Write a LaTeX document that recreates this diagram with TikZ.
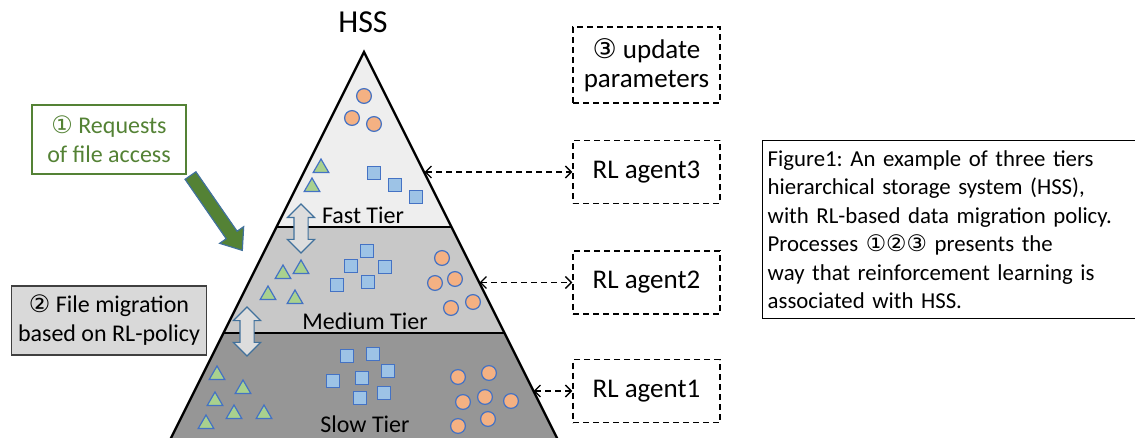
\documentclass[tikz,border=0pt]{standalone}
\usepackage{fontspec}
\setmainfont{Carlito}
\newfontfamily\circfont{DejaVu Sans}
\usetikzlibrary{arrows.meta,positioning,shapes.geometric,shapes.arrows,calc}
\definecolor{FastGray}{HTML}{EEEEEE}
\definecolor{MediumGray}{HTML}{C8C8C8}
\definecolor{SlowGray}{HTML}{969696}
\definecolor{ShapeBlue}{HTML}{4472C4}
\definecolor{SquareBlue}{HTML}{9DC3E6}
\definecolor{CircleOrange}{HTML}{F4B183}
\definecolor{TriGreen}{HTML}{A9D18E}
\definecolor{ReqGreen}{HTML}{548235}
\definecolor{ArrowBlue}{HTML}{41719C}
\definecolor{BoxGray}{HTML}{D9D9D9}
\newcommand{\circnum}[1]{{\circfont #1}}
\frenchspacing
\tikzset{
  file circle/.style={circle,draw=ShapeBlue,fill=CircleOrange,line width=0.6pt,
    minimum size=7.4pt,inner sep=0pt},
  file square/.style={rectangle,draw=ShapeBlue,fill=SquareBlue,line width=0.6pt,
    minimum size=6.6pt,inner sep=0pt},
  file triangle/.style={regular polygon,regular polygon sides=3,draw=ShapeBlue,
    fill=TriGreen,line width=0.6pt,minimum size=9pt,inner sep=0pt},
  tier label/.style={font=\fontsize{12}{14}\selectfont},
  agent box/.style={draw,dash pattern=on 3pt off 2pt,line width=0.65pt,
    minimum width=73.5pt,minimum height=31.5pt,align=center,font=\fontsize{13.5}{14.5}\selectfont},
  agent link/.style={{Straight Barb[length=3pt,width=6pt]}-{Straight Barb[length=3pt,width=6pt]},
    dash pattern=on 3pt off 2pt,line width=0.7pt},
  migration arrow/.style={double arrow,rotate=90,draw=ArrowBlue,fill=BoxGray!90,line width=0.6pt,
    minimum height=24.5pt,minimum width=13pt,double arrow head extend=3.25pt,inner sep=3.25pt},
  note box/.style={line width=0.7pt,minimum width=77pt,minimum height=34.5pt,align=center,
    font=\fontsize{12}{14.5}\selectfont}
}

\begin{document}
\begin{tikzpicture}[x=0.5pt,y={(0pt,-0.5pt)}]
  \useasboundingbox (0,0) rectangle (1135,438);
  \clip (0,0) rectangle (1135,438);
  \begin{scope}
    \clip (364,52) -- (160,460) -- (568,460) -- cycle;
    \fill[SlowGray] (0,333) rectangle (1135,460);
    \fill[MediumGray] (0,227) rectangle (1135,333);
    \fill[FastGray] (0,0) rectangle (1135,227);
  \end{scope}
  \draw[line width=1pt] (276.5,227) -- (451.5,227);
  \draw[line width=1pt] (223.5,333) -- (504.5,333);
  \coordinate (apex) at (364,52);
  \draw[line width=1.2pt,line join=miter] (160,460) -- (apex) -- (568,460);
  \node[font=\fontsize{16}{18}\selectfont] (hss) at (363,22) {HSS};

  \node[tier label] (fast) at (363,215) {Fast Tier};
  \node[tier label] (medium) at (365,321) {Medium Tier};
  \node[tier label] (slow) at (365,424) {Slow Tier};

  \foreach \x/\y [count=\i] in {364/96,352/118,374/124,442/258,435/283,455/279,451/308,473/302,
      458/377,489/373,463/402,485/397,511/401,488/419,458/426}
    \node[file circle] (circ\i) at (\x,\y) {};
  \foreach \x/\y [count=\i] in {374/173,395/185,416/197,367/251,351/266,385/267,337/285,368/282,
      347/356,373/354,388/371,333/381,362/378,384/393,360/398}
    \node[file square] (sq\i) at (\x,\y) {};
  \foreach \x/\y [count=\i] in {321/168,312/187,283/274,301/269,268/295,295/299,
      217/375,243/389,215/401,234/414,264/414,206/424}
    \node[file triangle] (tri\i) at (\x,\y) {};

  \node[migration arrow] (mig1) at (301,228.5) {};
  \node[migration arrow] (mig2) at (247,331.5) {};

  \node[agent box,minimum height=38pt] (param) at (646.5,65) {\circnum{③} update\\parameters};
  \node[agent box] (agent3) at (646.5,172) {RL agent3};
  \node[agent box] (agent2) at (646.5,282.5) {RL agent2};
  \node[agent box] (agent1) at (646.5,391) {RL agent1};

  \coordinate (edge3) at (424.5,172);
  \coordinate (edge2) at (479.5,282.5);
  \coordinate (edge1) at (533.5,391);
  \foreach \i in {1,2,3}
    \draw[agent link] (edge\i) -- (edge\i -| agent\i.west);

  \node[note box,draw=ReqGreen,text=ReqGreen] (req) at (109,139.5) {\circnum{①} Requests\\of file access};
  \node[single arrow,draw=ArrowBlue,fill=ReqGreen,line width=0.6pt,rotate=-55.3,
    minimum height=45.5pt,minimum width=14pt,single arrow head extend=4pt,
    single arrow tip angle=76,inner sep=3pt] (reqarrow) at (214,209.5) {};
  \node[note box,draw=black!75,fill=BoxGray,minimum width=97pt] (migr) at (109,320.5)
    {\circnum{②} File migration\\based on RL-policy};

  \node[draw,line width=0.7pt,anchor=north west,minimum width=185.5pt,minimum height=89pt,
    text width=182pt,inner xsep=2.5pt,align=left,font=\fontsize{11.4}{14.25}\selectfont] (caption)
    at (762,140) {Figure1: An example of three tiers\\hierarchical storage system (HSS),\\
    with RL-based data migration policy.\\Processes \circnum{①②③} presents the\\
    way that reinforcement learning is\\associated with HSS.};
\end{tikzpicture}
\end{document}
